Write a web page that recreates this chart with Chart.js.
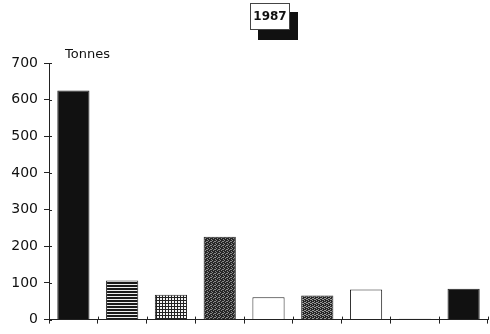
<!DOCTYPE html>
<html>
<head>
<meta charset="utf-8">
<script src="https://cdn.jsdelivr.net/npm/chart.js@4"></script>
<style>
  html, body { margin: 0; padding: 0; background: #fff; }
  #wrap { width: 490px; height: 334px; }
</style>
</head>
<body>
<div id="wrap"><canvas id="chart"></canvas></div>
<script>
// Data (tonnes, 1987)
const categories = ['', '', '', '', '', '', '', '', ''];
const tonnes = [625, 107, 68, 226, 61, 66, 82, 2, 84];
const yTicks = [0, 100, 200, 300, 400, 500, 600, 700];
const fills = ['black', 'hlines', 'grid', 'dots-dark', 'white', 'dots-mid', 'white', 'white', 'black'];

// small canvas patterns to mimic the hatching
function makePattern(kind) {
  const c = document.createElement('canvas');
  const ctx = c.getContext('2d');
  if (kind === 'black') return '#111';
  if (kind === 'white') return '#fff';
  if (kind === 'hlines') {
    c.width = 4; c.height = 3;
    ctx.fillStyle = '#eee'; ctx.fillRect(0, 0, 4, 3);
    ctx.fillStyle = '#1a1a1a'; ctx.fillRect(0, 0, 4, 2);
  } else if (kind === 'grid') {
    c.width = 3; c.height = 3;
    ctx.fillStyle = '#f4f4f4'; ctx.fillRect(0, 0, 3, 3);
    ctx.fillStyle = '#222'; ctx.fillRect(0, 0, 3, 1); ctx.fillRect(0, 0, 1, 3);
  } else {
    // stipple: fixed 4x4 mask of light pixels
    c.width = 4; c.height = 4;
    ctx.fillStyle = '#262626';
    ctx.fillRect(0, 0, 4, 4);
    ctx.fillStyle = kind === 'dots-dark' ? '#8a8a8a' : '#999';
    const holes = kind === 'dots-dark' ? [[0,0],[2,1],[1,2],[3,3],[3,1]] : [[0,0],[2,1],[1,2],[3,3],[2,3],[0,2]];
    holes.forEach(([x, y]) => ctx.fillRect(x, y, 1, 1));
  }
  return ctx.createPattern(c, 'repeat');
}

// crossing tick marks, title box and unit label
const decor = {
  id: 'decor',
  afterDraw(chart) {
    const ctx = chart.ctx;
    const x = chart.scales.x, y = chart.scales.y;
    const area = chart.chartArea;
    ctx.save();
    ctx.strokeStyle = '#222';
    ctx.lineWidth = 1;
    // y ticks poking inside
    y.ticks.forEach((t, i) => {
      const py = Math.round(y.getPixelForTick(i)) + 0.5;
      ctx.beginPath(); ctx.moveTo(area.left, py); ctx.lineTo(area.left + 3, py); ctx.stroke();
    });
    // x ticks poking up, at category boundaries
    const half = (x.getPixelForTick(1) - x.getPixelForTick(0)) / 2;
    for (let i = 0; i < x.ticks.length; i++) {
      const px = Math.round(x.getPixelForTick(i) + half) + 0.5;
      ctx.beginPath(); ctx.moveTo(px, area.bottom - 3); ctx.lineTo(px, area.bottom); ctx.stroke();
    }
    // "1987" box with drop shadow
    ctx.fillStyle = '#111';
    ctx.fillRect(258, 12, 40, 28);
    ctx.fillStyle = '#fff';
    ctx.fillRect(250, 3, 40, 27);
    ctx.strokeStyle = '#444';
    ctx.strokeRect(250.5, 3.5, 39, 26);
    ctx.fillStyle = '#111';
    ctx.font = 'bold 12px "DejaVu Sans", sans-serif';
    ctx.textAlign = 'center';
    ctx.textBaseline = 'middle';
    ctx.fillText('1987', 270, 17);
    // unit
    ctx.font = '13px "DejaVu Sans", sans-serif';
    ctx.textAlign = 'left';
    ctx.fillText('Tonnes', 65, 55);
    ctx.restore();
  }
};

new Chart(document.getElementById('chart'), {
  type: 'bar',
  data: {
    labels: categories,
    datasets: [{
      data: tonnes,
      backgroundColor: fills.map(makePattern),
      borderColor: '#222',
      borderWidth: 1,
      categoryPercentage: 1,
      barPercentage: 0.66
    }]
  },
  options: {
    responsive: true,
    maintainAspectRatio: false,
    animation: false,
    layout: { padding: { top: 63, right: 2, left: 0, bottom: 0 } },
    plugins: { legend: { display: false }, tooltip: { enabled: false } },
    scales: {
      x: {
        grid: { drawOnChartArea: false, tickLength: 4, color: '#222', offset: true },
        border: { color: '#222' },
        ticks: { display: false },
        afterFit(s) { s.height = 12; }
      },
      y: {
        min: 0, max: 700,
        afterBuildTicks(s) { s.ticks = yTicks.map(v => ({ value: v })); },
        grid: { drawOnChartArea: false, tickLength: 5, color: '#222' },
        border: { color: '#222' },
        ticks: { color: '#111', padding: 6, font: { family: 'DejaVu Sans', size: 14 } },
        afterFit(s) { s.width = 49; }
      }
    }
  },
  plugins: [decor]
});
</script>
</body>
</html>
